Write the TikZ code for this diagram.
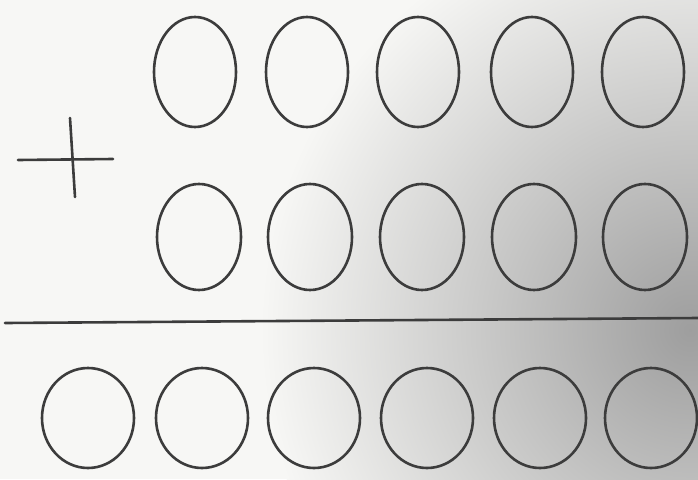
\documentclass[tikz,border=0pt]{standalone}
\usetikzlibrary{shapes.geometric}
\definecolor{ink}{HTML}{3C3C3C}
\definecolor{paper}{HTML}{F7F7F5}
\tikzset{
  pen/.style={draw=ink, line width=2.6pt, line cap=round}
}
\begin{document}
\begin{tikzpicture}[x=1pt,y=-1pt]
\useasboundingbox (0,0) rectangle (698,479);
\fill[paper] (0,0) rectangle (698,479);
% grey smudge on the right
\begin{scope}
\clip (0,0) rectangle (698,479);
\shade[inner color=black!38, outer color=paper] (690,330) circle (430);
\end{scope}
% plus sign
\coordinate (pl) at (18,160);
\coordinate (pr) at (113,159);
\coordinate (pt) at (70,118);
\coordinate (pb) at (75,197);
\draw[pen] (pl) -- (pr);
\draw[pen] (pt) -- (pb);
% top row
\foreach \x [count=\i] in {195,307,418,532,643}
  \node[pen, ellipse, minimum width=82pt, minimum height=110pt, inner sep=0pt] (a\i) at (\x,72) {};
% second row
\foreach \x [count=\i] in {199,310,422,534,645}
  \node[pen, ellipse, minimum width=84pt, minimum height=106pt, inner sep=0pt] (b\i) at (\x,237) {};
% sum line
\coordinate (ll) at (5,323);
\coordinate (lr) at (698,318);
\draw[pen] (ll) -- (lr);
% result row
\foreach \x [count=\i] in {88,202,314,427,540,651}
  \node[pen, ellipse, minimum width=92pt, minimum height=100pt, inner sep=0pt] (c\i) at (\x,418) {};
\end{tikzpicture}
\end{document}
